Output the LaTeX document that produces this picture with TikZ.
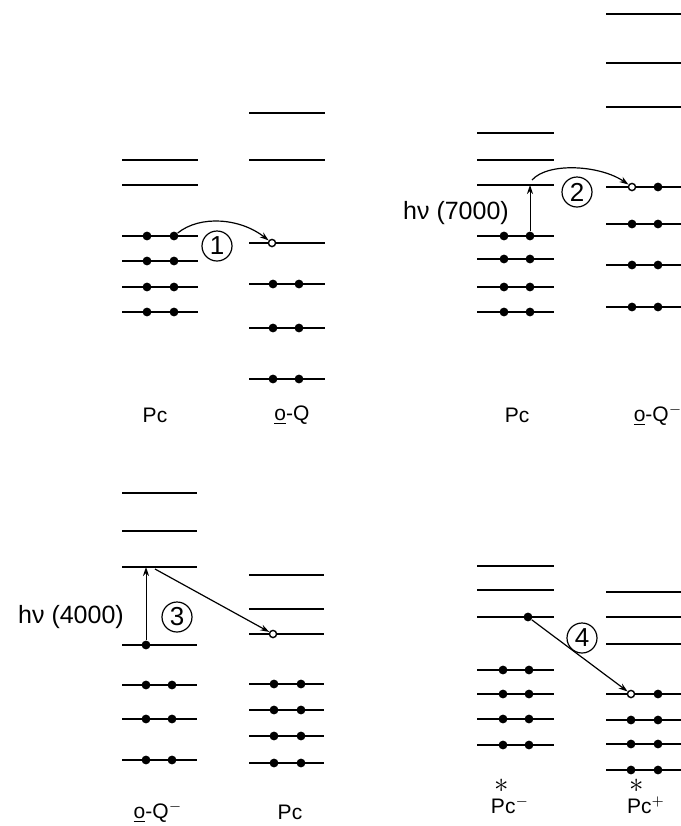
\documentclass[tikz,border=0pt]{standalone}
\usepackage{fontspec}
\setmainfont{Liberation Sans}
\usetikzlibrary{arrows.meta}

\begin{document}
\begin{tikzpicture}[
    x=0.5pt, y=-0.5pt,
    >={Stealth[length=4.5pt,width=3pt]},
    level/.style={line width=1.1pt},
    thinlevel/.style={line width=0.7pt},
    electron/.style={circle, fill, inner sep=0pt, minimum size=4.4pt},
    hole/.style={circle, draw, fill=white, line width=0.7pt, inner sep=0pt, minimum size=3.6pt},
    transfer/.style={->, line width=0.6pt},
    stepmark/.style={circle, draw, line width=0.6pt, inner sep=0pt, minimum size=15pt,
        font=\fontsize{13}{14}\selectfont},
    photon/.style={font=\fontsize{12.5}{14}\selectfont},
    species/.style={font=\fontsize{10.5}{12}\selectfont}
]
\useasboundingbox (0,0) rectangle (681,826);

% Panel 1: Pc -> o-Q
\foreach \y in {160,185,236,261,287,312}
    \draw[level] (122,\y) -- (198,\y);
\foreach \y in {236,261,287,312} {
    \node[electron] (a1-\y) at (147,\y) {};
    \node[electron] (a2-\y) at (174,\y) {};
}
\foreach \y in {113,160,243,284,328,379}
    \draw[level] (249,\y) -- (325,\y);
\foreach \y in {284,328,379} {
    \node[electron] (b1-\y) at (273,\y) {};
    \node[electron] (b2-\y) at (299,\y) {};
}
\node[hole] (h1) at (272,243) {};
\draw[transfer] (a2-236) .. controls (200,215) and (240,218) .. (h1);
\node[stepmark] (s1) at (217,246) {1};
\node[species] (pc1) at (155,415) {Pc};
\node[species] (oq1) at (292,415) {\underline{o}-Q};

% Panel 2: Pc* -> o-Q-
\foreach \y in {133,160,236,259,287,312}
    \draw[level] (477,\y) -- (554,\y);
\draw[thinlevel] (477,185) -- (554,185);
\foreach \y in {236,259,287,312} {
    \node[electron] (c1-\y) at (504,\y) {};
    \node[electron] (c2-\y) at (530,\y) {};
}
\coordinate (x2) at (530,185);
\draw[transfer, line width=0.5pt] (c2-236) -- (x2);
\node[photon] (hv2) at (456,213) {hν (7000)};
\foreach \y in {14,63,107,187,224,265,307}
    \draw[level] (606,\y) -- (681,\y);
\foreach \y in {224,265,307} {
    \node[electron] (d1-\y) at (632,\y) {};
    \node[electron] (d2-\y) at (658,\y) {};
}
\node[hole] (h2) at (632,187) {};
\node[electron] (d2-187) at (658,187) {};
\draw[transfer] (532,180) .. controls (548,162) and (600,165) .. (h2);
\node[stepmark] (s2) at (577,192) {2};
\node[species] (pc2) at (517,415) {Pc};
\node[species] (oq2) at (658,415) {\underline{o}-Q$^{-}$};

% Panel 3: o-Q-* -> Pc
\foreach \y in {493,531,645,685,719,760}
    \draw[level] (122,\y) -- (197,\y);
\draw[thinlevel] (122,567) -- (197,567);
\node[electron] (e1-645) at (146,645) {};
\foreach \y in {685,719,760} {
    \node[electron] (e1-\y) at (146,\y) {};
    \node[electron] (e2-\y) at (172,\y) {};
}
\coordinate (x3) at (146,567);
\draw[transfer, line width=0.5pt] (e1-645) -- (x3);
\node[photon] (hv3) at (71,617) {hν (4000)};
\node[stepmark] (s3) at (177,617) {3};
\foreach \y in {575,609,634,684,710,736,763}
    \draw[level] (249,\y) -- (324,\y);
\foreach \y in {684,710,736,763} {
    \node[electron] (f1-\y) at (274,\y) {};
    \node[electron] (f2-\y) at (301,\y) {};
}
\node[hole] (h3) at (273,634) {};
\coordinate (y3) at (155,569);
\draw[transfer] (y3) -- (h3);
\node[species] (oq3) at (158,812) {\underline{o}-Q$^{-}$};
\node[species] (pc3) at (290,812) {Pc};

% Panel 4: Pc- -> Pc+
\foreach \y in {566,590,617,670,694,719,745}
    \draw[level] (477,\y) -- (554,\y);
\node[electron] (g2-617) at (528,617) {};
\foreach \y in {670,694,719,745} {
    \node[electron] (g1-\y) at (503,\y) {};
    \node[electron] (g2-\y) at (529,\y) {};
}
\foreach \y in {592,617,644,694,720,744,770}
    \draw[level] (606,\y) -- (681,\y);
\node[hole] (h4) at (631,694) {};
\node[electron] (k2-694) at (658,694) {};
\foreach \y in {720,744,770} {
    \node[electron] (k1-\y) at (631,\y) {};
    \node[electron] (k2-\y) at (658,\y) {};
}
\draw[transfer] (g2-617) -- (h4);
\node[stepmark] (s4) at (582,638) {4};
\node[species] (pc4) at (510,805) {Pc$^{-}$};
\node[species] (pc5) at (646,805) {Pc$^{+}$};
\node[species, font=\fontsize{14}{14}\selectfont] (st4) at (502,786) {$\ast$};
\node[species, font=\fontsize{14}{14}\selectfont] (st5) at (637,786) {$\ast$};

\end{tikzpicture}
\end{document}
